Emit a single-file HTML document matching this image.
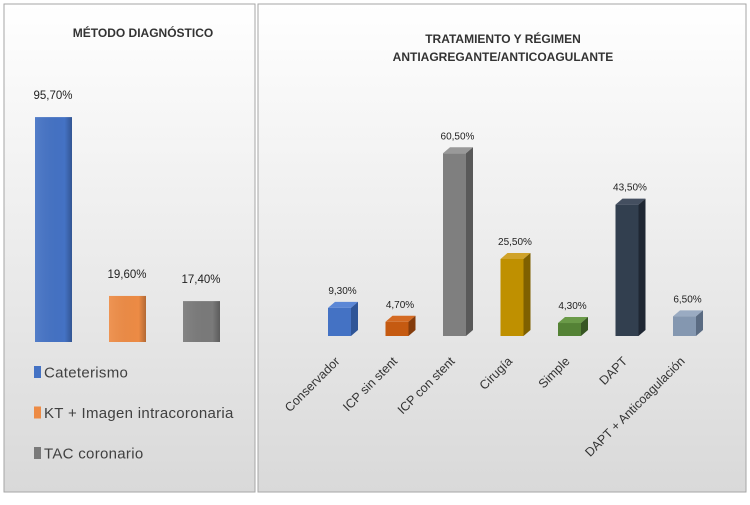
<!DOCTYPE html>
<html><head><meta charset="utf-8"><style>
body{margin:0;width:750px;height:500px;background:#fff;font-family:"Liberation Sans",sans-serif;overflow:hidden}
</style></head><body>
<svg width="750" height="500">
<defs>
<linearGradient id="bg" x1="0" y1="0" x2="0" y2="1"><stop offset="0" stop-color="#ffffff"/><stop offset="1" stop-color="#d9d9d9"/></linearGradient>
<linearGradient id="shade" x1="0" y1="0" x2="1" y2="0"><stop offset="0" stop-color="#fff" stop-opacity="0.08"/><stop offset="0.8" stop-color="#000" stop-opacity="0"/><stop offset="1" stop-color="#000" stop-opacity="0.25"/></linearGradient>
</defs>
<rect x="4" y="4" width="251" height="488" fill="url(#bg)" stroke="#a6a6a6"/>
<rect x="258" y="4" width="488" height="488" fill="url(#bg)" stroke="#a6a6a6"/>
<text x="143" y="37" text-anchor="middle" font-size="12" font-weight="bold" fill="#333">MÉTODO DIAGNÓSTICO</text>
<text x="503" y="43" text-anchor="middle" font-size="12" font-weight="bold" fill="#333">TRATAMIENTO Y RÉGIMEN</text>
<text x="503" y="61" text-anchor="middle" font-size="12" font-weight="bold" fill="#333">ANTIAGREGANTE/ANTICOAGULANTE</text>
<g id="left"></g><g id="legend"></g><g id="right"></g>
</svg>
<script>
const leftCats=["Cateterismo","KT + Imagen intracoronaria","TAC coronario"];
const leftVals=[95.7,19.6,17.4];
const leftLabels=["95,70%","19,60%","17,40%"];
const rightCats=["Conservador","ICP sin stent","ICP con stent","Cirugía","Simple","DAPT","DAPT + Anticoagulación"];
const rightVals=[9.3,4.7,60.5,25.5,4.3,43.5,6.5];
const rightLabels=["9,30%","4,70%","60,50%","25,50%","4,30%","43,50%","6,50%"];
const leftColors=["#4472c4","#ed8b45","#7a7a7a"];
const rightColors=[["#4472c4","#2f5597","#5b87d6"],["#c55a11","#843c0c","#d46a22"],["#7f7f7f","#595959","#999"],["#bf9000","#7f6000","#d0a32a"],["#548235","#375623","#6a9a48"],["#323f4f","#1f2733","#444f60"],["#8497b0","#5a6b82","#9aabc2"]];
const NS="http://www.w3.org/2000/svg";
function mk(tag,attrs,parent){const e=document.createElementNS(NS,tag);for(const k in attrs)e.setAttribute(k,attrs[k]);parent.appendChild(e);return e;}
const L=document.getElementById('left'),LG=document.getElementById('legend'),R=document.getElementById('right');
const lBase=342, lScale=2.35;
function ly(v){return lBase-v*lScale;}
function lx(i){return 35+i*74;}
leftVals.forEach((v,i)=>{
 const r=mk('rect',{x:lx(i),y:ly(v),width:37,height:lBase-ly(v),fill:leftColors[i]},L);
 
 
 mk('rect',{x:lx(i),y:ly(v),width:37,height:lBase-ly(v),fill:'url(#shade)'},L);
 const t=mk('text',{x:lx(i)+18,y:ly(v)-18,'text-anchor':'middle','font-size':'11.5',fill:'#222'},L);
 t.textContent=leftLabels[i];
 
 
});
leftCats.forEach((c,i)=>{
 const y=372+i*40.5;
 const s=mk('rect',{x:34,y:y-6,width:7,height:12,fill:leftColors[i]},LG);
 
 
 const t=mk('text',{x:44,y:y+5.5,'font-size':'15','letter-spacing':'0.3',fill:'#404040'},LG);
 t.textContent=c;
 
 
});
const rBase=336, rScale=3.02, w=23, dx=7, dy=6;
function ry(v){return rBase-v*rScale;}
function rx(i){return 328+i*57.5;}
rightVals.forEach((v,i)=>{
 const x=rx(i), y=ry(v), c=rightColors[i];
 const g=mk('g',{},R);
 
 
 mk('polygon',{points:`${x},${y} ${x+dx},${y-dy} ${x+w+dx},${y-dy} ${x+w},${y}`,fill:c[2]},g);
 mk('polygon',{points:`${x+w},${y} ${x+w+dx},${y-dy} ${x+w+dx},${rBase-dy} ${x+w},${rBase}`,fill:c[1]},g);
 mk('rect',{x:x,y:y,width:w,height:rBase-y,fill:c[0]},g);
 const t=mk('text',{x:x+w/2+3,y:y-14,'text-anchor':'middle','font-size':'10',fill:'#222'},R);
 t.textContent=rightLabels[i];
 
 
 const cx=x+w/2+1, cy=362;
 const l=mk('text',{x:cx,y:cy,'text-anchor':'end','font-size':'12.5',fill:'#333',transform:`rotate(-45 ${cx} ${cy})`},R);
 l.textContent=rightCats[i];
 
 
});
</script>
</body></html>
